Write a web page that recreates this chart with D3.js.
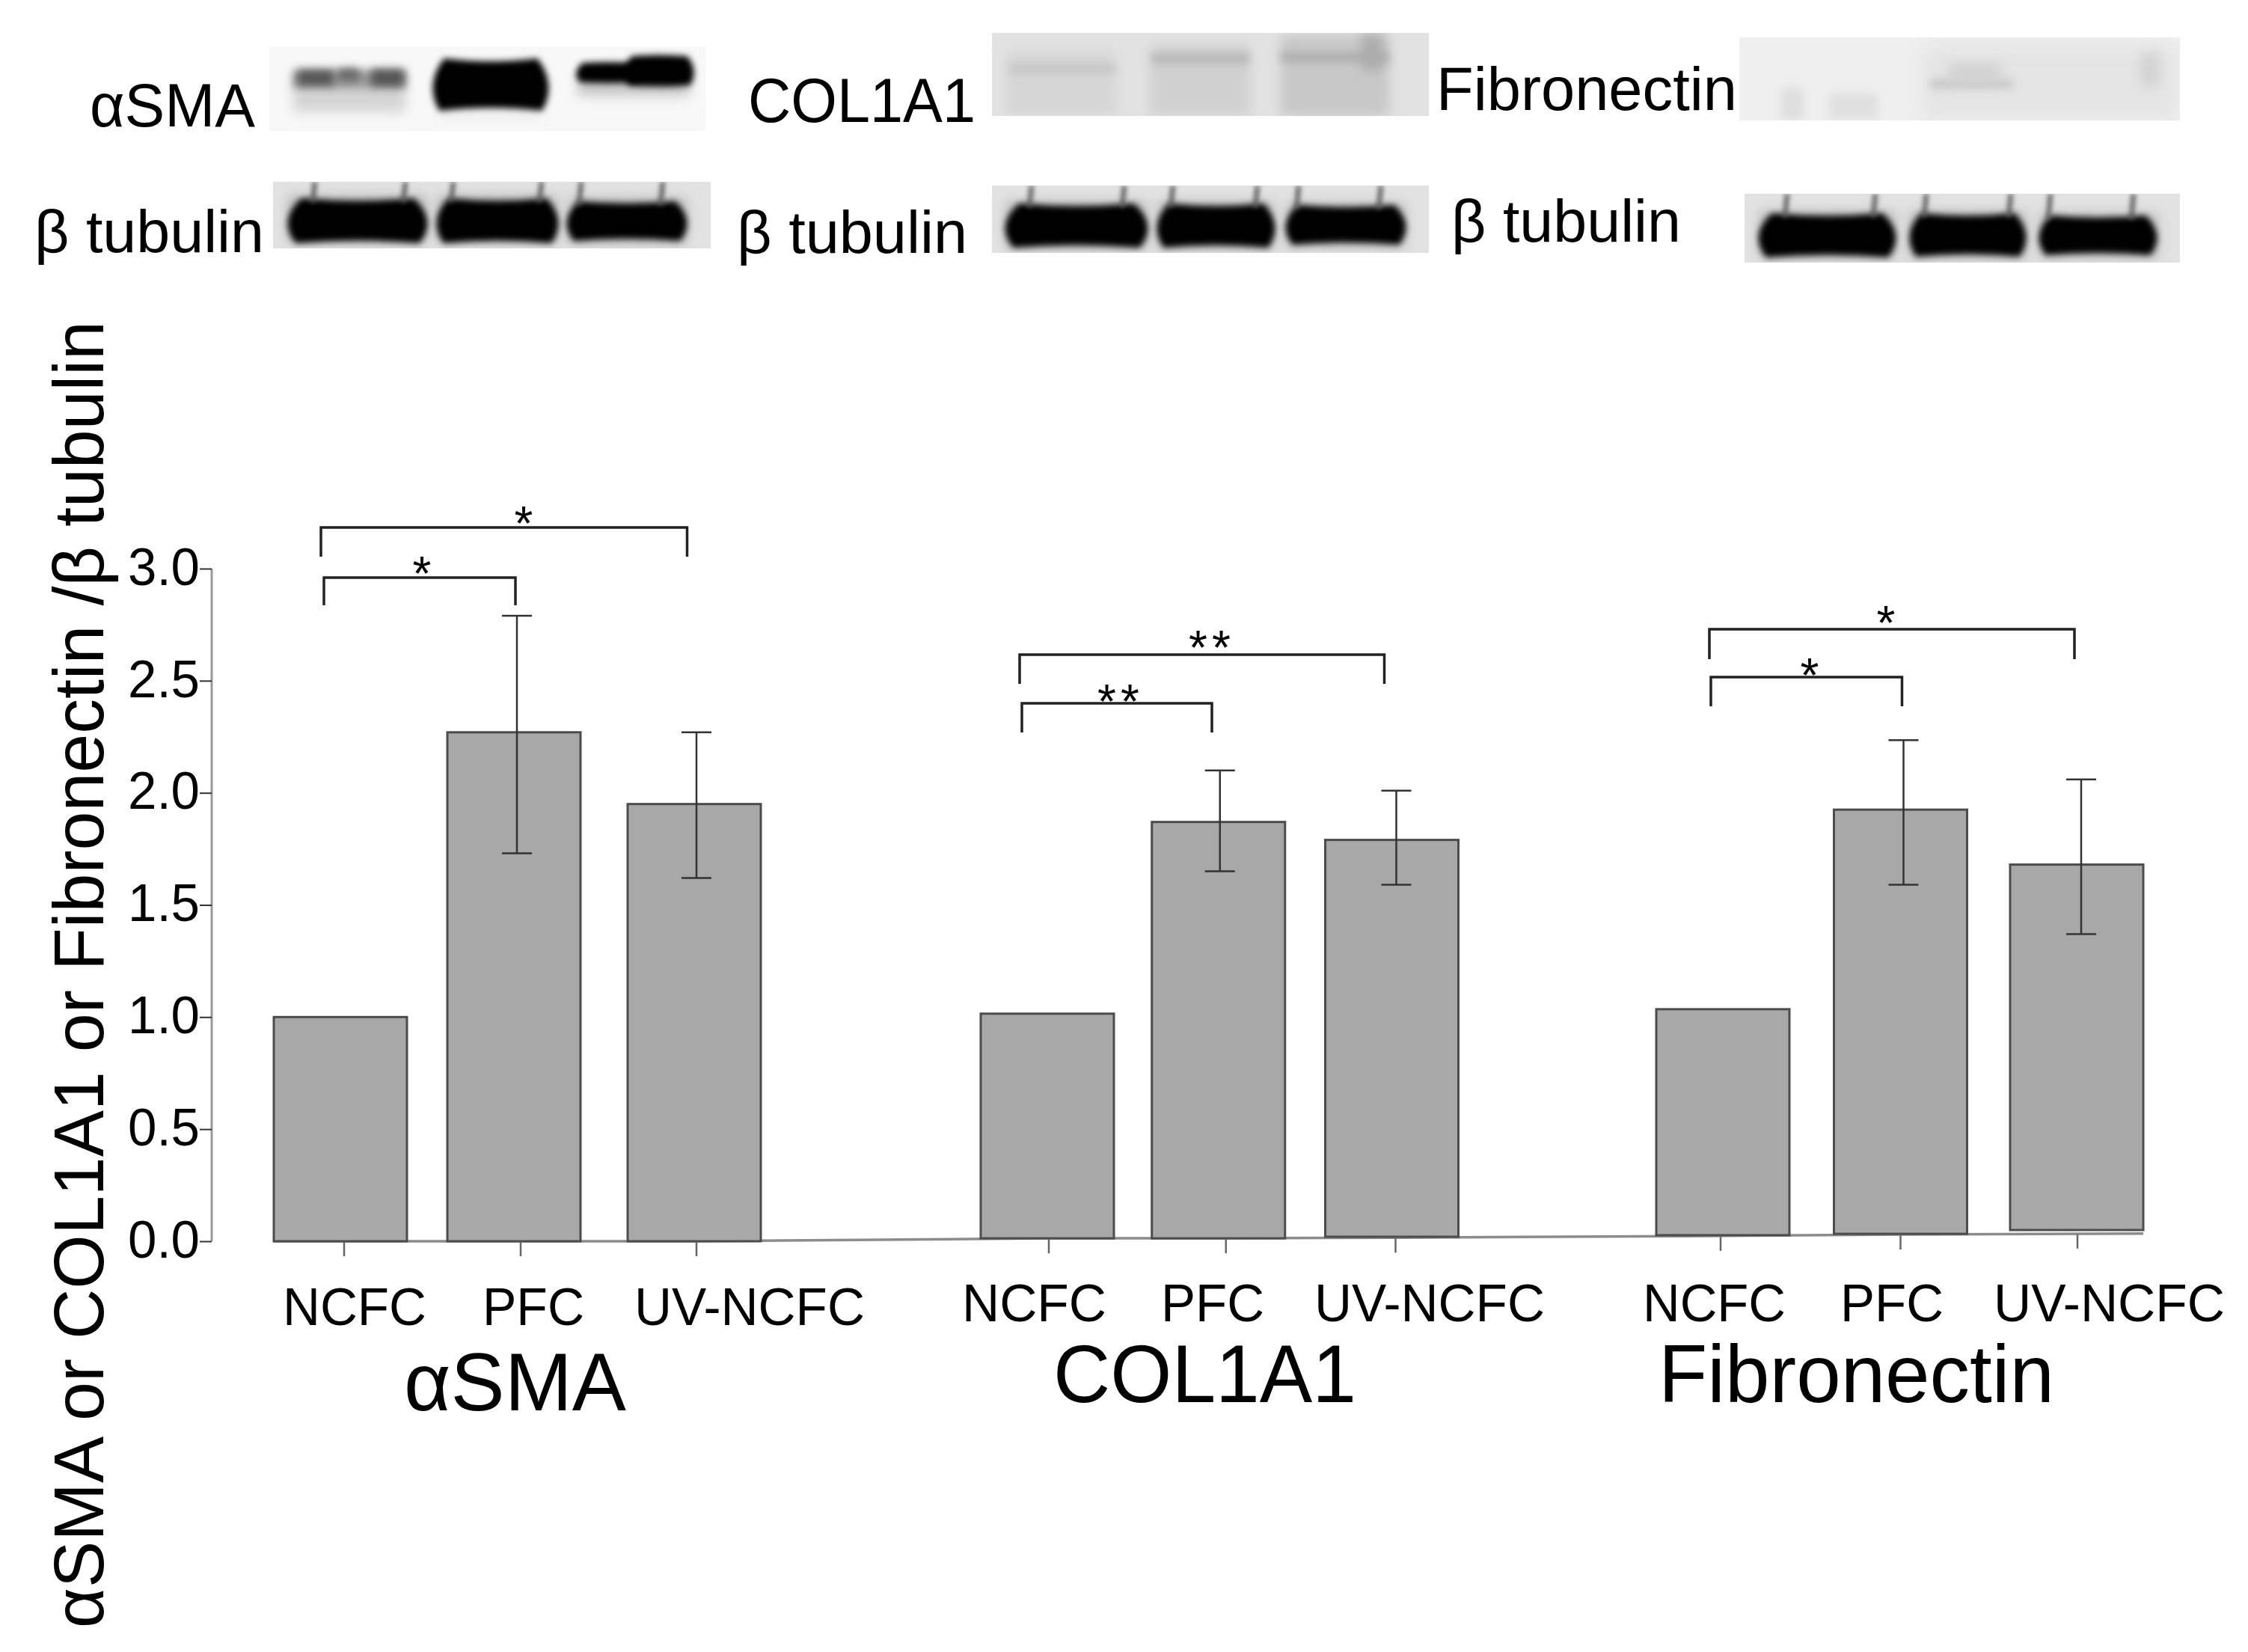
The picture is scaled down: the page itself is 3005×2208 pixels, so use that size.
<!DOCTYPE html>
<html><head><meta charset="utf-8">
<style>html,body{margin:0;padding:0;background:#fff}svg{display:block}text{font-family:"Liberation Sans",Arial,sans-serif;fill:#000}</style>
<script src="https://cdnjs.cloudflare.com/ajax/libs/d3/7.8.5/d3.min.js"></script>
</head><body>
<script>
// ---------- data ----------
const categories = ["NCFC", "PFC", "UV-NCFC"];
const groups = ["αSMA", "COL1A1", "Fibronectin"];
const yTicks = [0, 0.5, 1, 1.5, 2, 2.5, 3];
const yTitle = "αSMA or COL1A1 or Fibronectin /β tubulin";
const asmaMeans = [1.0, 2.27, 1.95];
const asmaErrHigh = [null, 2.79, 2.27];
const asmaErrLow = [null, 1.73, 1.62];
const asmaBase = [0, 0, 0];
const col1a1Means = [1.015, 1.87, 1.79];
const col1a1ErrHigh = [null, 2.10, 2.01];
const col1a1ErrLow = [null, 1.65, 1.59];
const col1a1Base = [0.013, 0.013, 0.02];
const fibroMeans = [1.035, 1.925, 1.68];
const fibroErrHigh = [null, 2.235, 2.06];
const fibroErrLow = [null, 1.59, 1.37];
const fibroBase = [0.027, 0.033, 0.05];
const floorLine = [0, 0, 0, 0.013, 0.013, 0.016, 0.024, 0.03, 0.034];
const sigMarks = [["*", "*"], ["**", "**"], ["*", "*"]];

// ---------- layout ----------
const W = 3005, H = 2208, barW = 178;
const svg = d3.select("body").append("svg").attr("width", W).attr("height", H).attr("viewBox", [0, 0, W, H]);
svg.append("rect").attr("width", W).attr("height", H).attr("fill", "#fff");
const defs = svg.append("defs");
[["b2", 3], ["b4", 4], ["b6", 6], ["b8", 8], ["b12", 13]].forEach(([id, s]) => {
  defs.append("filter").attr("id", id).attr("filterUnits", "userSpaceOnUse")
    .attr("x", 0).attr("y", 0).attr("width", W).attr("height", 420)
    .append("feGaussianBlur").attr("stdDeviation", s);
});
const y = d3.scaleLinear().domain([0, 3]).range([1659, 760]);

function label(t, x0, x1, base, size, g) {
  return (g || svg).append("text").attr("x", x0).attr("y", base).attr("font-size", size)
    .attr("textLength", x1 - x0).attr("lengthAdjust", "spacingAndGlyphs").text(t);
}

// ---------- blots ----------
const blotG = svg.append("g");
function flare(x0, x1, y0, y1, d) {
  const w = x1 - x0, r = w * 0.1, h = y1 - y0;
  return `M${x0 + r},${y0} Q${x0 + w / 2},${y0 + d} ${x1 - r},${y0} Q${x1 + r * .7},${y0 + h * .5} ${x1 - r * .6},${y1} Q${x0 + w / 2},${y1 - d} ${x0 + r * .6},${y1} Q${x0 - r * .7},${y0 + h * .5} ${x0 + r},${y0} Z`;
}
const panels = [
  [360, 63, 583, 112, "#f8f8f8"], [1326, 44, 584, 111, "#e2e2e2"], [2325, 50, 589, 111, "#efefef"],
  [365, 243, 585, 89, "#e2e2e2"], [1326, 248, 584, 90, "#e2e2e2"], [2332, 259, 582, 92, "#e2e2e2"]
];
panels.forEach(p => blotG.append("rect").attr("x", p[0]).attr("y", p[1]).attr("width", p[2]).attr("height", p[3]).attr("fill", p[4]));
const clipP = defs.append("clipPath").attr("id", "panels");
panels.forEach(p => clipP.append("rect").attr("x", p[0]).attr("y", p[1]).attr("width", p[2]).attr("height", p[3]));
const inner = blotG.append("g").attr("clip-path", "url(#panels)");
const smears = [
  // aSMA haze
  [392, 100, 150, 50, "#d4d4d4", "b8"], [772, 100, 150, 28, "#c4c4c4", "b8"], [585, 100, 140, 60, "#eeeeee", "b8"],
  [392, 94, 150, 24, "#9a9a9a", "b6"], [398, 94, 48, 20, "#555555", "b6"], [452, 92, 28, 16, "#666666", "b6"], [496, 93, 44, 22, "#555555", "b6"],
  // COL1A1 lanes and bands
  [1345, 70, 147, 85, "#d6d6d6", "b8"], [1537, 60, 134, 95, "#d0d0d0", "b8"], [1712, 46, 145, 110, "#c8c8c8", "b8"],
  [1350, 86, 140, 12, "#c4c4c4", "b6"], [1540, 72, 130, 13, "#b6b6b6", "b6"], [1712, 70, 145, 13, "#aeaeae", "b6"], [1820, 46, 28, 48, "#acacac", "b8"],
  // Fibronectin
  [2381, 118, 30, 42, "#dedede", "b6"], [2445, 125, 65, 35, "#e0e0e0", "b6"], [2570, 60, 340, 100, "#e4e4e4", "b12"],
  [2580, 107, 110, 10, "#c0c0c0", "b6"], [2605, 85, 70, 25, "#d2d2d2", "b8"], [2862, 70, 24, 45, "#d2d2d2", "b8"],
  // tubulin panel glow around bands
  [385, 262, 185, 62, "#b8b8b8", "b8"], [585, 262, 160, 62, "#b8b8b8", "b8"], [760, 265, 158, 60, "#b8b8b8", "b8"],
  [1345, 270, 188, 62, "#b8b8b8", "b8"], [1548, 270, 155, 62, "#b8b8b8", "b8"], [1720, 272, 158, 58, "#b8b8b8", "b8"],
  [2352, 283, 182, 62, "#b8b8b8", "b8"], [2553, 283, 155, 62, "#b8b8b8", "b8"], [2726, 286, 158, 58, "#b8b8b8", "b8"]
];
smears.forEach(s => inner.append("rect").attr("x", s[0]).attr("y", s[1]).attr("width", s[2]).attr("height", s[3]).attr("fill", s[4]).attr("filter", `url(#${s[5]})`));
const bands = [
  [578, 734, 78, 148, 8], [770, 858, 84, 110, -2], [835, 928, 75, 114, -3],
  [384, 572, 265, 325, 7], [583, 747, 265, 325, 7], [757, 919, 269, 322, 6],
  [1343, 1535, 272, 331, 7], [1546, 1705, 272, 331, 7], [1718, 1880, 274, 327, 6],
  [2350, 2535, 285, 344, 7], [2552, 2709, 285, 343, 7], [2725, 2884, 288, 341, 6]
];
bands.forEach(b => inner.append("path").attr("d", flare(b[0], b[1], b[2], b[3], b[4])).attr("fill", "#000").attr("filter", "url(#b4)"));
const streaks = [
  [421, 243, 270], [542, 243, 270], [606, 243, 270], [724, 243, 270], [777, 243, 274], [886, 243, 274],
  [1379, 248, 277], [1503, 248, 277], [1568, 248, 277], [1681, 248, 277], [1736, 248, 279], [1846, 248, 279],
  [2389, 259, 290], [2507, 259, 290], [2575, 259, 290], [2688, 259, 290], [2741, 259, 293], [2852, 259, 293]
];
streaks.forEach(s => inner.append("line").attr("x1", s[0]).attr("x2", s[0] - 3).attr("y1", s[1]).attr("y2", s[2])
  .attr("stroke", "#5a5a5a").attr("stroke-width", 6).attr("filter", "url(#b2)"));

// ---------- top labels ----------
label("αSMA", 120, 341, 169, 82);
label("COL1A1", 1000, 1304, 163, 84);
label("Fibronectin", 1920, 2322, 147, 82);
label("β tubulin", 46, 353, 337, 80);
label("β tubulin", 985, 1293, 338, 80);
label("β tubulin", 1940, 2247, 323, 80);

// ---------- y axis ----------
const axisG = svg.append("g").attr("transform", "translate(283,0)")
  .call(d3.axisLeft(y).tickValues(yTicks).tickFormat(d3.format(".1f")).tickSize(16).tickPadding(0));
axisG.select(".domain").attr("stroke", "#999").attr("stroke-width", 3).attr("d", `M0,${y(3)}V${y(0)}`);
axisG.selectAll(".tick line").attr("stroke", "#333").attr("stroke-width", 2);
axisG.selectAll(".tick text").attr("font-size", 71).attr("dy", "0.3em").attr("fill", "#000")
  .attr("textLength", 96).attr("lengthAdjust", "spacingAndGlyphs")
  .attr("font-family", '"Liberation Sans",Arial,sans-serif');

svg.append("text").attr("transform", "translate(138,2176) rotate(-90)").attr("font-size", 95)
  .attr("textLength", 1747).attr("lengthAdjust", "spacingAndGlyphs").text(yTitle);

// ---------- groups ----------
const groupData = [
  { means: asmaMeans, hi: asmaErrHigh, lo: asmaErrLow, base: asmaBase },
  { means: col1a1Means, hi: col1a1ErrHigh, lo: col1a1ErrLow, base: col1a1Base },
  { means: fibroMeans, hi: fibroErrHigh, lo: fibroErrLow, base: fibroBase }
];
const groupRange = [[366, 1017], [1311, 1949.5], [2214, 2865]];
const barNudge = [[0, -4.5, 0], [0, -1.5, 0], [0, 1, 0]];
const errNudge = [[0, 4, 3], [0, 2, 6], [0, 4, 6]];
const tickNudge = [[5, 9, 3], [2, 10, 5], [-3, 0, 1]];
const capW = 40;
const catLabels = [
  [[378, 570], [645, 781], [848, 1156]],
  [[1286, 1479], [1552, 1690], [1757, 2065]],
  [[2196, 2387], [2460, 2598], [2665, 2974]]
];
const catBase = [1771, 1766, 1766];
const groupLabels = [[540, 837, 1885], [1408, 1813, 1874], [2217, 2746, 1874]];
const brackets = [
  [[429, 918.5, 705, 744, 700, 684], [433, 689, 772, 809, 564, 751]],
  [[1363, 1850.5, 875, 914, 1620, 850], [1366, 1620, 940, 979, 1498, 922]],
  [[2285, 2773, 841, 881, 2521, 817], [2287, 2542.5, 905, 944, 2419, 887]]
];
const xScales = groupRange.map(r => d3.scaleBand().domain(categories).range(r)
  .paddingInner(1 - barW / ((r[1] - r[0] - barW) / 2)).paddingOuter(0));

// floor line
const floorPts = [];
xScales.forEach(xs => categories.forEach(c => floorPts.push(xs(c) + barW / 2)));
floorPts[0] = groupRange[0][0];
floorPts[8] = groupRange[2][1];
svg.append("path").attr("fill", "none").attr("stroke", "#8c8c8c").attr("stroke-width", 3.5)
  .attr("d", d3.line().x((d, i) => floorPts[i]).y(d => y(d))(floorLine));

groupData.forEach((g, gi) => {
  const xs = xScales[gi], G = svg.append("g");
  G.selectAll("rect").data(categories).join("rect")
    .attr("x", (c, i) => xs(c) + barNudge[gi][i]).attr("width", xs.bandwidth())
    .attr("y", (c, i) => y(g.means[i])).attr("height", (c, i) => y(g.base[i]) - y(g.means[i]))
    .attr("fill", "#a8a8a8").attr("stroke", "#4c4c4c").attr("stroke-width", 3);
  categories.forEach((c, i) => {
    const cx = xs(c) + barNudge[gi][i] + barW / 2;
    // x tick
    const tx = cx + tickNudge[gi][i], fy = y(floorLine[gi * 3 + i]);
    G.append("line").attr("x1", tx).attr("x2", tx).attr("y1", fy + 1).attr("y2", fy + 20)
      .attr("stroke", "#666").attr("stroke-width", 2.5);
    // label
    label(c, catLabels[gi][i][0], catLabels[gi][i][1], catBase[gi], 71);
    // error bar
    if (g.hi[i] != null) {
      const ex = cx + errNudge[gi][i];
      const eg = G.append("g").attr("stroke", "#333").attr("stroke-width", 2.5);
      eg.append("line").attr("x1", ex).attr("x2", ex).attr("y1", y(g.hi[i])).attr("y2", y(g.lo[i]));
      eg.append("line").attr("x1", ex - capW / 2).attr("x2", ex + capW / 2).attr("y1", y(g.hi[i])).attr("y2", y(g.hi[i]));
      eg.append("line").attr("x1", ex - capW / 2).attr("x2", ex + capW / 2).attr("y1", y(g.lo[i])).attr("y2", y(g.lo[i]));
    }
  });
  const gl = groupLabels[gi];
  label(groups[gi], gl[0], gl[1], gl[2], 109);
  brackets[gi].forEach((b, k) => {
    G.append("path").attr("fill", "none").attr("stroke", "#222").attr("stroke-width", 3.5)
      .attr("d", `M${b[0]},${b[3]}V${b[2]}H${b[1]}V${b[3]}`);
    G.append("text").attr("x", b[4]).attr("y", b[5] + 38).attr("text-anchor", "middle").attr("font-size", 64)
      .attr("letter-spacing", sigMarks[gi][k].length > 1 ? 6 : 0).text(sigMarks[gi][k]);
  });
});
</script>
</body></html>
